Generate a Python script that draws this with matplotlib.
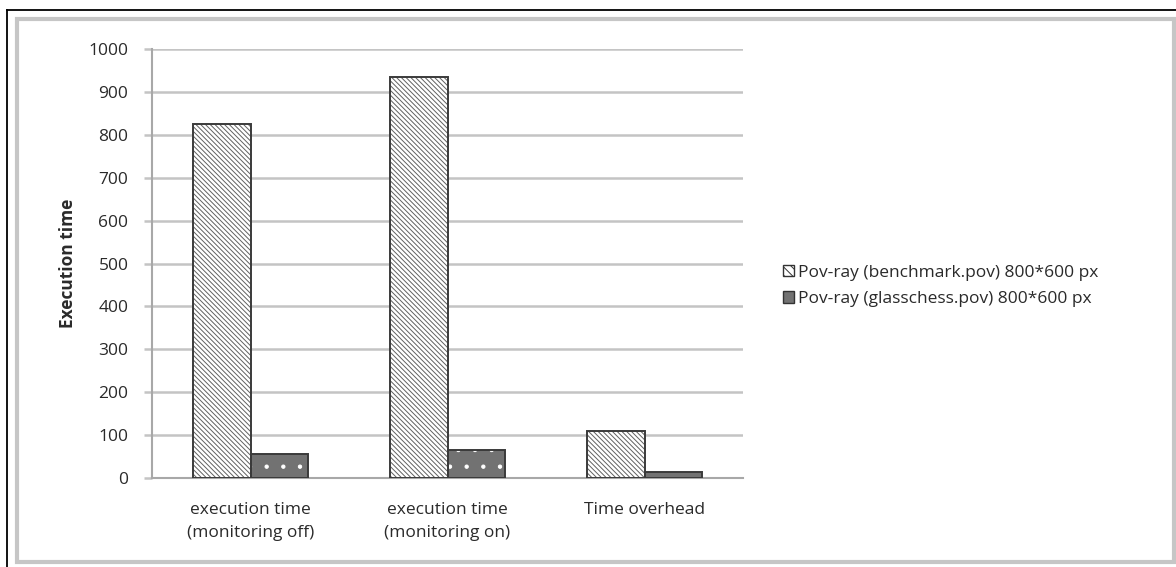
"""Pov-ray execution time, monitoring off / on, and the overhead."""
import numpy as np
import matplotlib
matplotlib.use("Agg")
import matplotlib.pyplot as plt
from matplotlib.lines import Line2D
from matplotlib.patches import Patch, Rectangle

plt.rcParams["font.family"] = ["Open Sans", "DejaVu Sans"]
plt.rcParams["hatch.linewidth"] = 0.7

categories = ["execution time\n(monitoring off)", "execution time\n(monitoring on)",
              "Time overhead"]
benchmark = [825, 935, 110]
glasschess = [56, 66, 14]
series_labels = ["Pov-ray (benchmark.pov) 800*600 px",
                 "Pov-ray (glasschess.pov) 800*600 px"]
yticks = list(range(0, 1001, 100))

W, H = 1176, 567
FS = 12.5
TXT = "#2a2a2a"
fig = plt.figure(figsize=(W / 100, H / 100), dpi=100)

# bord noir (haut + gauche seulement, l'image est rognée) et cadre gris du graphique
fig.add_artist(Line2D([7 / W, 1], [1 - 10 / H, 1 - 10 / H], transform=fig.transFigure,
                      color="black", lw=1.3))
fig.add_artist(Line2D([7 / W, 7 / W], [0, 1 - 10 / H], transform=fig.transFigure,
                      color="black", lw=1.3))
fig.patches.append(Rectangle((17 / W, (H - 562) / H), (1174 - 17) / W, (562 - 19) / H,
                             transform=fig.transFigure, fill=False, ec="#c6c6c6", lw=3))

ax = fig.add_axes([152 / W, (H - 478) / H, 591 / W, (478 - 49) / H])
x = np.arange(len(categories))
bw = 0.29

# benchmark : fond blanc, hachures diagonales
ax.bar(x - bw / 2, benchmark, bw, color="white", edgecolor="#606060",
       hatch="\\\\\\\\\\\\\\", lw=0, zorder=3)
ax.bar(x - bw / 2, benchmark, bw, fill=False, edgecolor="#3a3a3a", lw=1.4, zorder=4)
# glasschess : gris foncé, points blancs
ax.bar(x + bw / 2, glasschess, bw, color="#727272", edgecolor="white", hatch=".",
       lw=0, zorder=3)
ax.bar(x + bw / 2, glasschess, bw, fill=False, edgecolor="#3a3a3a", lw=1.4, zorder=4)

ax.set_xlim(-0.5, len(categories) - 0.5)
ax.set_ylim(0, 1000)
ax.set_yticks(yticks)
ax.yaxis.grid(True, color="#c4c4c4", lw=1.8, zorder=0)
ax.set_axisbelow(True)
ax.set_xticks(x)
ax.set_xticklabels(categories, fontsize=FS, color=TXT, linespacing=1.6)
ax.tick_params(axis="x", length=0, pad=17)
ax.tick_params(axis="y", length=6, width=1.8, color="#c4c4c4", labelsize=FS,
               labelcolor=TXT, pad=11)
for s in ["top", "right"]:
    ax.spines[s].set_visible(False)
for s in ["left", "bottom"]:
    ax.spines[s].set_color("#a8a8a8")
    ax.spines[s].set_linewidth(1.5)
ax.set_ylabel("Execution time", fontsize=FS, fontweight="bold", color=TXT, labelpad=8)

handles = [Patch(facecolor="white", edgecolor="#333333", hatch="\\\\\\\\"),
           Patch(facecolor="#727272", edgecolor="#333333")]
fig.legend(handles, series_labels, loc="center left",
           bbox_to_anchor=(776 / W, (H - 286) / H), frameon=False, fontsize=FS,
           labelcolor=TXT, handlelength=0.65, handleheight=0.65, handletextpad=0.2,
           labelspacing=0.6, borderaxespad=0)

fig.savefig("out.png", dpi=100)
